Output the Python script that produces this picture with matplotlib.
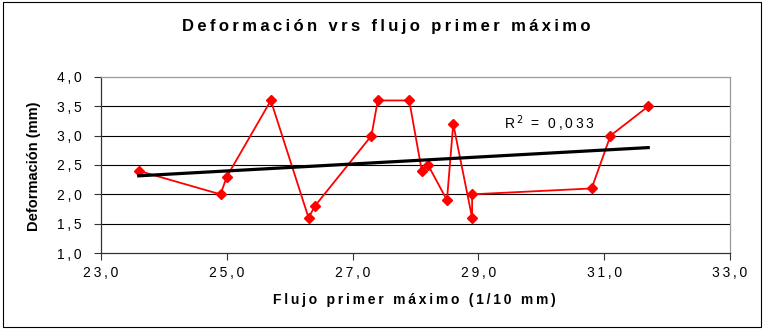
import numpy as np
import matplotlib
matplotlib.use("Agg")
import matplotlib.pyplot as plt
from matplotlib.patches import Rectangle
from matplotlib.ticker import FixedLocator, FuncFormatter

plt.rcParams['font.family'] = ['Liberation Sans', 'DejaVu Sans']

# flujo (1/10 mm) and deformación (mm), in the order they were joined
flujo = [23.6, 24.9, 25.0, 25.7, 26.3, 26.4, 27.3, 27.4, 27.9, 28.1, 28.2,
         28.5, 28.6, 28.9, 28.9, 30.8, 31.1, 31.7]
deformacion = [2.4, 2.0, 2.3, 3.6, 1.6, 1.8, 3.0, 3.6, 3.6, 2.4, 2.5,
               1.9, 3.2, 1.6, 2.0, 2.1, 3.0, 3.5]
r2_label = "0,033"

x_ticks = [23, 25, 27, 29, 31, 33]
y_ticks = [1.0, 1.5, 2.0, 2.5, 3.0, 3.5, 4.0]


def spaced(s):
	# spread the letters out, the labels are drawn with wide tracking
	return "\u2009".join(s)


def comma(v, pos=None):
	return spaced(("%.1f" % v).replace(".", ","))


fig = plt.figure(figsize=(7.64, 3.29), dpi=100)
fig.patches.append(Rectangle((0.004, 0.006), 0.992, 0.988, transform=fig.transFigure,
	fill=False, edgecolor="black", linewidth=0.8))

ax = fig.add_axes([0.1322, 0.231, 0.8233, 0.535])

x = np.array(flujo)
y = np.array(deformacion)
ax.plot(x, y, color="#FF0000", linewidth=1.3, marker="D", markersize=5.5, zorder=3)

# linear trend
m, b = np.polyfit(x, y, 1)
xt = np.array([x.min(), x.max()])
ax.plot(xt, m * xt + b, color="black", linewidth=2.3, zorder=4)

ax.text(29.4, 3.21, "R\u2009$^{2}$\u2009 " + spaced("= " + r2_label),
	fontsize=10, ha="left", va="center", zorder=5)

ax.set_xlim(23, 33)
ax.set_ylim(1.0, 4.0)
ax.xaxis.set_major_locator(FixedLocator(x_ticks))
ax.yaxis.set_major_locator(FixedLocator(y_ticks))
ax.xaxis.set_major_formatter(FuncFormatter(comma))
ax.yaxis.set_major_formatter(FuncFormatter(comma))
ax.tick_params(direction="out", length=5, width=0.8, labelsize=10, color="#333333", pad=4)
ax.tick_params(axis="y", pad=9)

for v in y_ticks[1:-1]:
	ax.axhline(v, color="black", linewidth=0.8, zorder=1)

ax.spines["left"].set_color("#333333")
ax.spines["bottom"].set_color("#333333")
ax.spines["top"].set_color("#999999")
ax.spines["right"].set_color("#999999")
for s in ax.spines.values():
	s.set_linewidth(0.9)

fig.text(0.505, 0.918, spaced("Deformación vrs flujo primer máximo"),
	fontsize=12, fontweight="bold", ha="center", va="center")
fig.text(0.543, 0.088, spaced("Flujo primer máximo (1/10 mm)"),
	fontsize=10, fontweight="bold", ha="center", va="center")
fig.text(0.045, 0.495, "Deformación (mm)", fontsize=10.5, fontweight="bold",
	rotation=90, ha="center", va="center")

fig.savefig("out.png", dpi=100)
